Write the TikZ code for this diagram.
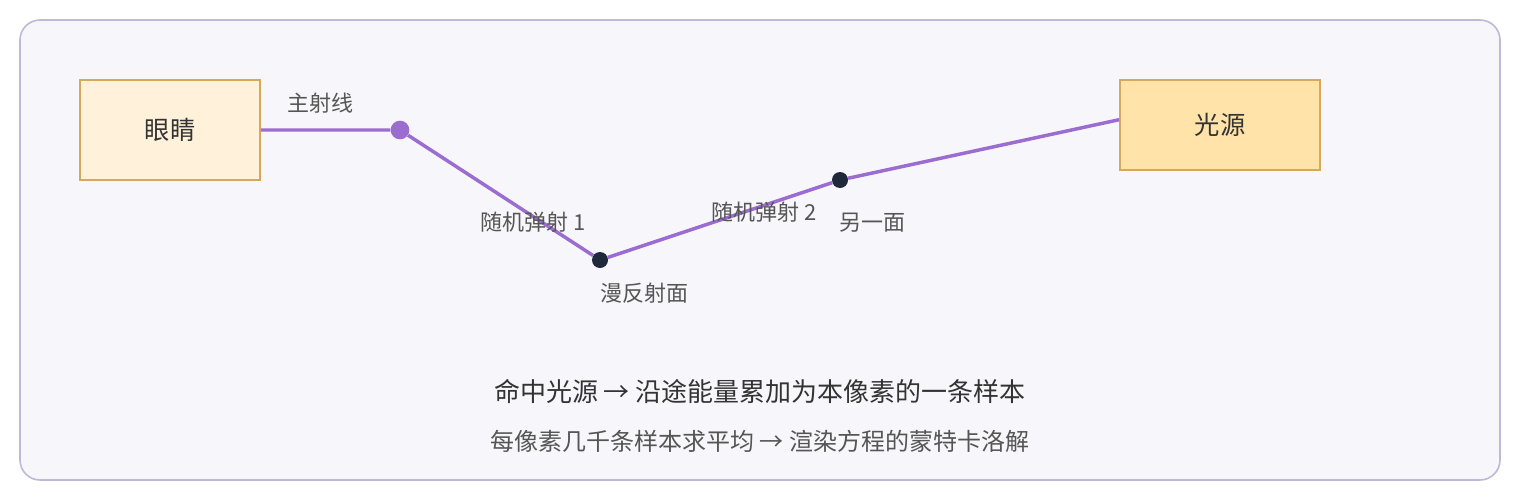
\documentclass[tikz,border=0pt]{standalone}
\usepackage{fontspec}
\setmainfont{Noto Sans CJK SC}
\usetikzlibrary{positioning}
\definecolor{panelfill}{HTML}{F7F6FB}
\definecolor{paneldraw}{HTML}{BFB8D6}
\definecolor{boxdraw}{HTML}{D6A85A}
\definecolor{eyefill}{HTML}{FFF1DA}
\definecolor{lightfill}{HTML}{FFE3A8}
\definecolor{raycol}{HTML}{9B6DD0}
\definecolor{hitcol}{HTML}{1E293B}
\definecolor{textcol}{HTML}{333333}
\definecolor{notecol}{HTML}{555555}

\begin{document}
\begin{tikzpicture}[x=0.75pt,y=-0.75pt]
\tikzstyle{box}=[rectangle,draw=boxdraw,line width=1.4pt,inner sep=0pt,text=textcol,font=\fontsize{19}{21}\selectfont]
\tikzstyle{eye box}=[box,fill=eyefill,minimum width=135pt,minimum height=75pt]
\tikzstyle{light box}=[box,fill=lightfill,minimum width=150pt,minimum height=67.5pt]
\tikzstyle{dot}=[circle,inner sep=0pt,fill=hitcol,minimum size=12pt]
\tikzstyle{ray}=[draw=raycol,line width=2.6pt]
\tikzstyle{annot}=[text=notecol,font=\fontsize{16.5}{18}\selectfont]

% Background panel
\draw[fill=panelfill,draw=paneldraw,line width=1.2pt,rounded corners=15pt] (20,20) rectangle (1500,480);
\useasboundingbox (0,0) rectangle (1520,500);

% Eye and light boxes
\node[eye box] (eye) at (170,130) {眼睛};
\node[light box] (light) at (1220,125) {光源};

% Bounce points
\node[dot,fill=raycol,minimum size=14pt] (P-0) at (400,130) {};
\node[dot] (P-1) at (600,260) {};
\node[dot] (P-2) at (840,180) {};

% Ray path
\path[ray] (eye.east) -- (P-0) -- (P-1) -- (P-2) -- (light.177);

% Annotate the path
\node[annot] (L-0) at (320,103) {主射线};
\node[annot] (L-1) at (533,222) {随机弹射 1};
\node[annot] (L-2) at (764,212) {随机弹射 2};
\node[annot] (L-3) at (872,223) {另一面};
\node[annot] (L-4) at (644,293) {漫反射面};

% Summary lines
\node[text=textcol,font=\fontsize{19.5}{22}\selectfont] (S-1) at (760,391) {命中光源 → 沿途能量累加为本像素的一条样本};
\node[text=notecol,font=\fontsize{18}{21}\selectfont] (S-2) at (760,441) {每像素几千条样本求平均 → 渲染方程的蒙特卡洛解};
\end{tikzpicture}
\end{document}
